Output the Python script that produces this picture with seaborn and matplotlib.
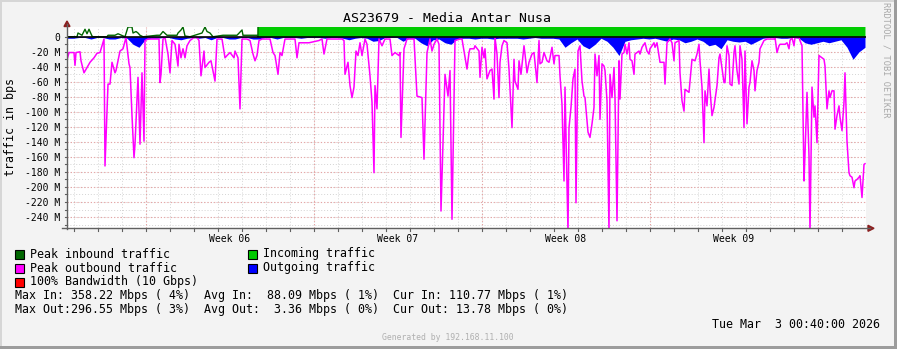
import numpy as np
import pandas as pd
import matplotlib
matplotlib.use("Agg")
import matplotlib.pyplot as plt
from matplotlib.patches import Rectangle, Polygon
from matplotlib.lines import Line2D
import seaborn as sns

# ---------------- data ----------------
title = "AS23679 - Media Antar Nusa"
week_labels = ["Week 06", "Week 07", "Week 08", "Week 09"]
week_label_hours = [163, 331, 499, 667]
week_start_hours = [79, 247, 415, 583, 751]
y_ticks = [0, -20, -40, -60, -80, -100, -120, -140, -160, -180, -200, -220, -240]
y_tick_labels = ["0", "-20 M", "-40 M", "-60 M", "-80 M", "-100 M", "-120 M", "-140 M",
                 "-160 M", "-180 M", "-200 M", "-220 M", "-240 M"]

# Peak outbound traffic (Mbps, drawn negative), hours since graph start
out_peak_hours = [0, 2, 7, 8, 9, 13, 14, 17, 20, 23, 27, 30, 33, 37, 38, 41, 43, 45, 48, 49, 52, 53, 56, 59,
                  62, 63, 65, 67, 68, 71, 73, 75, 77, 78, 81, 92, 93, 94, 96, 98, 101, 103, 105, 108, 111,
                  112, 114, 116, 118, 120, 123, 127, 130, 132, 134, 137, 138, 142, 144, 148, 150, 155, 158,
                  160, 163, 167, 168, 171, 173, 175, 180, 183, 186, 188, 190, 192, 195, 203, 206, 208, 211,
                  213, 215, 218, 228, 230, 232, 242, 252, 255, 257, 260, 275, 277, 278, 281, 283, 285, 287,
                  289, 291, 293, 295, 298, 300, 303, 305, 307, 308, 310, 312, 315, 318, 323, 325, 328, 332,
                  333, 334, 337, 340, 347, 350, 355, 357, 360, 363, 365, 367, 370, 372, 374, 378, 381, 383,
                  385, 388, 393,
                  395, 400, 402, 403, 407, 408, 412, 413, 415, 417, 418, 420, 423, 425, 427, 428, 430, 432,
                  433, 435, 437, 440, 442, 445, 447, 448, 451, 452, 454, 457, 458, 460, 462, 465, 467, 470,
                  472, 473, 475, 477, 480, 482, 483, 485, 487, 488, 492, 493, 495, 497, 498, 501, 502, 504,
                  506, 508, 509, 511, 513, 515, 517, 518, 521, 523, 525, 527, 528, 530, 532, 533, 535, 537,
                  538, 540, 542, 543, 545, 547, 548, 550, 552, 553, 555, 557, 558, 560, 562, 563, 565, 567,
                  568, 572, 573, 575, 578, 580, 582, 583, 587, 588, 590, 593, 597, 598, 600, 603, 605, 607,
                  608, 612, 613, 615, 617, 618, 622, 623, 625, 628, 630, 632, 633, 635, 637, 638, 640, 642,
                  643, 645, 647, 650, 652, 653, 657, 658, 660, 662, 663, 665, 667, 668, 670, 672, 673, 675,
                  677, 678, 680, 682, 683, 685, 687, 688, 690, 692, 693, 697, 700, 707, 708, 710, 712, 713,
                  718, 720, 722, 723, 725, 727, 728, 732, 733, 735, 737, 738, 740, 742, 743, 745, 747, 748,
                  750, 752, 755, 757, 758, 760, 762, 763, 765, 767, 768, 770, 772, 773, 775, 777, 778, 780,
                  782, 783, 785, 787, 788, 790, 792, 793, 795, 797, 798]
out_peak_mbps = [31, 21, 21, 38, 21, 20, 32, 48, 41, 34, 28, 22, 21, 3, 172, 63, 63, 34, 48, 45, 25, 19, 16, 1,
                 36, 41, 105, 161, 143, 54, 143, 48, 139, 5, 3, 3, 61, 50, 3, 1, 23, 48, 5, 10, 39,
                 10, 28, 16, 28, 12, 5, 1, 1, 5, 52, 19, 41, 34, 32, 59, 3, 3, 28,
                 25, 21, 28, 19, 28, 96, 3, 3, 5, 23, 32, 25, 5, 3, 3, 21, 25, 50,
                 21, 25, 3, 3, 28, 8, 8, 5, 3, 23, 3, 3, 5, 50, 34, 65, 81, 67,
                 19, 25, 8, 25, 3, 10, 52, 87, 181, 65, 96, 3, 12, 3, 3, 25, 21, 25,
                 21, 134, 16, 3, 3, 79, 81, 163, 21, 3, 19, 10, 3, 10, 232, 50, 79, 45,
                 243, 5, 3,
                 3, 43, 21, 16, 16, 12, 19, 54, 14, 28, 16, 56, 45, 43, 83, 1, 23, 81,
                 34, 12, 5, 8, 43, 121, 30, 59, 70, 32, 50, 12, 23, 48, 34, 23, 21, 61,
                 5, 36, 34, 21, 32, 34, 28, 14, 36, 25, 25, 52, 90, 192, 67, 260, 121, 94,
                 56, 43, 221, 19, 12, 59, 79, 81, 127, 134, 116, 94, 23, 52, 25, 110, 36, 39,
                 45, 85, 260, 50, 81, 41, 81, 245, 32, 83, 23, 21, 10, 23, 8, 30, 32, 50,
                 23, 19, 23, 14, 8, 19, 23, 16, 8, 14, 8, 34, 34, 63, 8, 3, 8, 32,
                 8, 5, 48, 85, 99, 70, 74, 59, 30, 32, 23, 10, 32, 67, 141, 72, 92, 43,
                 70, 105, 94, 65, 28, 23, 61, 61, 12, 25, 63, 65, 21, 12, 45, 63, 12, 30,
                 121, 19, 116, 67, 61, 32, 45, 72, 45, 34, 16, 5, 3, 3, 1, 21, 12, 10,
                 10, 8, 16, 5, 1, 12, 1, 1, 5, 12, 192, 156, 74, 159, 260, 67, 107, 92,
                 141, 25, 28, 30, 39, 96, 72, 81, 72, 72, 123, 105, 92, 107, 125, 87, 48, 139,
                 181, 185, 187, 201, 192, 190, 187, 185, 214, 170, 169]

# Outgoing traffic (Mbps, drawn negative), one value every 6 hours
out_avg_hours = list(range(0, 799, 6))
out_avg_mbps = [2, 2, 1, 1, 3, 1, 1, 3, 3, 1, 2, 10, 14, 4, 2, 2, 1, 1, 3, 4,
                2, 1, 2, 1, 4, 1, 1, 3, 3, 1, 1, 3, 3, 1, 1, 3, 1, 1, 1, 2,
                1, 1, 1, 2, 1, 1, 2, 4, 2, 1, 2, 6, 5, 1, 1, 1, 6, 2, 2, 8,
                12, 4, 3, 8, 10, 3,
                2, 2, 3, 2, 2, 3, 2, 2, 2, 2, 3, 2, 1, 2, 2, 2, 3, 14, 8, 3,
                12, 16, 10, 2, 6, 14, 25, 6, 4, 3, 2, 3, 2, 4, 6, 3, 4, 8, 6, 3,
                6, 12, 10, 16, 4, 6, 7, 6, 10, 6, 2, 1, 1, 2, 2, 1, 2, 8, 10, 8,
                6, 8, 6, 4, 14, 30, 20, 14]

# Peak inbound traffic (Mbps)
in_peak_hours = [0, 10, 11, 15, 18, 20, 22, 25, 26, 40, 41, 48, 51, 58, 61, 65, 66, 69, 71, 73, 76,
                 90, 93, 96, 100, 110, 111, 114, 116, 118, 123, 135, 138, 140, 143, 146, 156, 170,
                 175, 176, 183, 190, 191, 192, 300, 450, 600, 798]
in_peak_mbps = [0, 0, 5, 2, 10, 4, 10, 1, 0, 0, 2, 2, 4, 0, 13, 13, 5, 7, 5, 2, 0,
                2, 2, 7, 2, 2, 5, 9, 13, 1, 0, 5, 13, 7, 5, 0, 2, 2,
                9, 2, 2, 2, 0, 180, 260, 358, 240, 190]

# Incoming traffic (Mbps)
in_avg_hours = [0, 190, 191, 260, 330, 400, 470, 540, 610, 680, 750, 798]
in_avg_mbps = [0, 0, 95, 88, 110, 92, 85, 100, 90, 105, 98, 111]

legend_items = [("Peak inbound traffic", "#006600"), ("Incoming traffic", "#00CC00"),
                ("Peak outbound traffic", "#FF00FF"), ("Outgoing traffic", "#0000FF"),
                ("100% Bandwidth (10 Gbps)", "#FF0000")]
stats_lines = ["Max In: 358.22 Mbps ( 4%)  Avg In:  88.09 Mbps ( 1%)  Cur In: 110.77 Mbps ( 1%)",
               "Max Out:296.55 Mbps ( 3%)  Avg Out:  3.36 Mbps ( 0%)  Cur Out: 13.78 Mbps ( 0%)"]
date_text = "Tue Mar  3 00:40:00 2026"
gen_text = "Generated by 192.168.11.100"
side_text = "RRDTOOL / TOBI OETIKER"

# ---------------- figure ----------------
W, H = 897, 349
DPI = 100
MONO = "DejaVu Sans Mono"
FS = 8.4

def fx(x):
    return x / W

def fy(y):
    return 1 - y / H

fig = plt.figure(figsize=(W / DPI, H / DPI), dpi=DPI)
fig.patch.set_facecolor("#f3f3f3")

ax_left, ax_right, ax_top, ax_bottom = 67, 866, 27, 228.3
ax = fig.add_axes([fx(ax_left), fy(ax_bottom), (ax_right - ax_left) / W, (ax_bottom - ax_top) / H])
ax.set_facecolor("white")

x_min, x_max = 0, 799
y_min, y_max = -255, 13

# grids
for d in np.arange(7, x_max, 24):
    ax.axvline(d, color="#d4d4d4", lw=0.7, ls=(0, (1, 2)), zorder=0)
for v in np.arange(-250, 10, 10):
    ax.axhline(v, color="#d4d4d4", lw=0.7, ls=(0, (1, 2)), zorder=0)
for w in week_start_hours:
    ax.axvline(w, color="#e8a0a0", lw=0.8, ls=(0, (1, 2)), zorder=0.5)
for v in y_ticks[1:]:
    ax.axhline(v, color="#e8a0a0", lw=0.8, ls=(0, (1, 2)), zorder=0.5)

# areas
ax.fill_between(in_avg_hours, 0, in_avg_mbps, color="#00CC00", lw=0, zorder=1)
ax.fill_between(out_avg_hours, 0, -np.array(out_avg_mbps), color="#0000FF", lw=0, zorder=2)

df_out = pd.DataFrame({"hour": out_peak_hours, "value": -np.array(out_peak_mbps)})
df_in = pd.DataFrame({"hour": in_peak_hours, "value": in_peak_mbps})
sns.lineplot(data=df_in, x="hour", y="value", ax=ax, color="#006600", lw=1.0, zorder=3)
sns.lineplot(data=df_out, x="hour", y="value", ax=ax, color="#FF00FF", lw=1.1, zorder=4)
ax.axhline(0, color="black", lw=1.2, zorder=5)

ax.set_xlim(x_min, x_max)
ax.set_ylim(y_min, y_max)
ax.set_xlabel("")
ax.set_ylabel("")
for s in ax.spines.values():
    s.set_visible(False)

ax.set_yticks(y_ticks)
ax.set_yticklabels(y_tick_labels, fontfamily=MONO, fontsize=7)
ax.tick_params(axis="y", length=0, pad=5, colors="black")
ax.set_xticks(week_label_hours)
ax.set_xticklabels(week_labels, fontfamily=MONO, fontsize=7)
ax.tick_params(axis="x", length=0, pad=4, colors="black")

# axis lines and arrows
fig.add_artist(Line2D([fx(67), fx(67)], [fy(229), fy(24)], color="#606060", lw=1))
fig.add_artist(Line2D([fx(62), fx(870)], [fy(228.3), fy(228.3)], color="#606060", lw=1))
fig.add_artist(Polygon([[fx(64), fy(26.5)], [fx(70), fy(26.5)], [fx(67), fy(21)]],
                       closed=True, color="#8b2020", transform=fig.transFigure))
fig.add_artist(Polygon([[fx(868), fy(225.3)], [fx(868), fy(231.3)], [fx(874), fy(228.3)]],
                       closed=True, color="#8b2020", transform=fig.transFigure))
# small ticks on axes
for d in np.arange(7, x_max, 24):
    xp = ax_left + d * (ax_right - ax_left) / (x_max - x_min)
    fig.add_artist(Line2D([fx(xp), fx(xp)], [fy(228.3), fy(230.5)], color="#606060", lw=0.8))
for v in np.arange(-250, 10, 10):
    yp = ax_top + (y_max - v) * (ax_bottom - ax_top) / (y_max - y_min)
    fig.add_artist(Line2D([fx(65), fx(67)], [fy(yp), fy(yp)], color="#606060", lw=0.8))

# texts
fig.text(fx(447), fy(19), title, ha="center", va="center", fontfamily=MONO, fontsize=9.5)
fig.text(fx(11), fy(127), "traffic in bps", ha="center", va="center", rotation=90,
         fontfamily=MONO, fontsize=FS)
fig.text(fx(886), fy(60), side_text, ha="center", va="center", rotation=270,
         fontfamily=MONO, fontsize=6.2, color="#a8a8a8")

legend_pos = [(15, 254), (248, 254), (15, 268), (248, 268), (15, 282)]
for (label, col), (lx, ly) in zip(legend_items, legend_pos):
    fig.add_artist(Rectangle((fx(lx), fy(ly + 4.5)), 8.5 / W, 9 / H, facecolor=col,
                             edgecolor="black", lw=0.8, transform=fig.transFigure))
    fig.text(fx(lx + 15), fy(ly), label, ha="left", va="center", fontfamily=MONO, fontsize=FS)

fig.text(fx(15), fy(296), stats_lines[0], ha="left", va="center", fontfamily=MONO, fontsize=FS)
fig.text(fx(15), fy(310), stats_lines[1], ha="left", va="center", fontfamily=MONO, fontsize=FS)
fig.text(fx(880), fy(324), date_text, ha="right", va="center", fontfamily=MONO, fontsize=FS)
fig.text(fx(448), fy(338), gen_text, ha="center", va="center", fontfamily=MONO, fontsize=5.9,
         color="#b0b0b0")

# 3D-like frame
fig.add_artist(Rectangle((0, fy(2)), 1, 2 / H, facecolor="#d6d6d6", lw=0, transform=fig.transFigure))
fig.add_artist(Rectangle((0, 0), 2 / W, 1, facecolor="#d6d6d6", lw=0, transform=fig.transFigure))
fig.add_artist(Rectangle((fx(894), 0), 3 / W, 1, facecolor="#9c9c9c", lw=0, transform=fig.transFigure))
fig.add_artist(Rectangle((0, 0), 1, 3 / H, facecolor="#9c9c9c", lw=0, transform=fig.transFigure))

fig.savefig("out.png", dpi=DPI, facecolor=fig.get_facecolor())
